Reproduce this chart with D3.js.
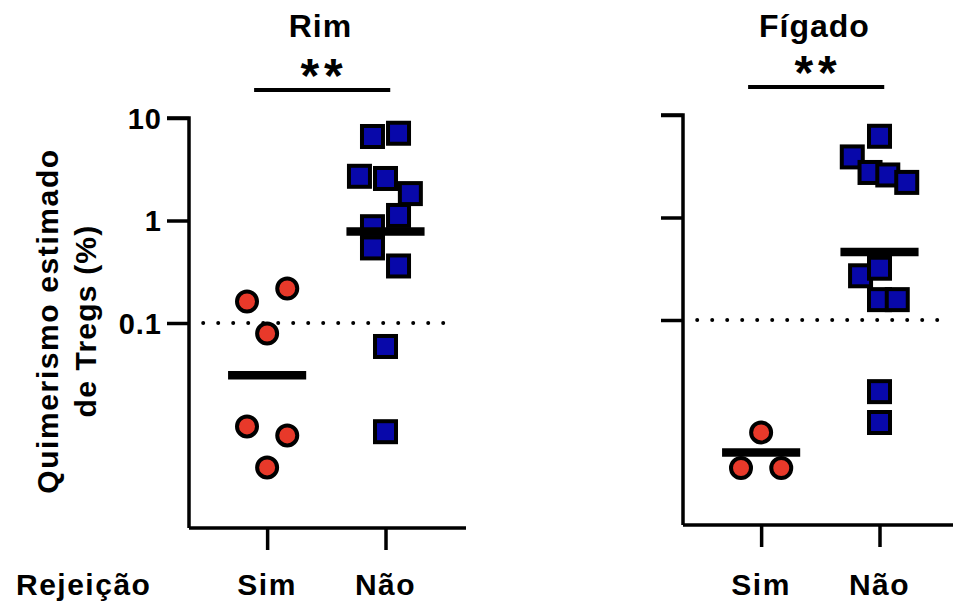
<!DOCTYPE html>
<html>
<head>
<meta charset="utf-8">
<script src="https://cdn.jsdelivr.net/npm/d3@7"></script>
<style>
  body { margin: 0; background: #fff; }
  text { font-family: "Liberation Sans", Arial, sans-serif; font-weight: bold; fill: #000; }
</style>
</head>
<body>
<div id="chart"></div>
<script>
// categorias e valores (%, escala log)
let groups = ["Sim", "Não"];
let tissues = ["Rim", "Fígado"];
let yTicks = [10, 1, 0.1];
let threshold = 0.1;

// Rim
let rimSim = [0.162, 0.217, 0.079, 0.0098, 0.0080, 0.0039];
let rimSimX = [0.83, 1.17, 1.0, 0.83, 1.17, 1.0];
let rimNao = [6.6, 7.1, 2.7, 2.57, 1.83, 1.12, 0.87, 0.54, 0.36, 0.059, 0.0087];
let rimNaoX = [1.89, 2.11, 1.78, 2.0, 2.21, 2.11, 1.89, 1.89, 2.11, 2.0, 2.0];
let rimMeans = [0.031, 0.78];

// Fígado
let figSim = [0.0080, 0.0036, 0.0036];
let figSimX = [1.0, 0.83, 1.17];
let figNao = [6.2, 3.9, 2.75, 2.6, 2.2, 0.27, 0.32, 0.158, 0.158, 0.020, 0.010];
let figNaoX = [2.0, 1.77, 1.92, 2.07, 2.23, 1.84, 2.0, 2.0, 2.15, 2.0, 2.0];
let figMeans = [0.0051, 0.46];

let signif = ["**", "**"];

let width = 953, height = 606;

let svg = d3.select("#chart")
.append("svg")
.attr("width", width)
.attr("height", height);

let panels = [
  {title: tissues[0], sim: rimSim, simX: rimSimX, nao: rimNao, naoX: rimNaoX, means: rimMeans, sig: signif[0],
   left: 189, top: 118, bottom: 528, labels: true},
  {title: tissues[1], sim: figSim, simX: figSimX, nao: figNao, naoX: figNaoX, means: figMeans, sig: signif[1],
   left: 683, top: 115, bottom: 525, labels: false}
];

let red = "#e8392a", blue = "#0808aa";

panels.forEach(function(p) {
  let x = d3.scaleLinear().domain([0.34, 2.68]).range([p.left, p.left + 277]);
  let y = d3.scaleLog().domain([0.001, 10]).range([p.bottom, p.top]);

  let g = svg.append("g");

  // eixo y
  let yAxis = d3.axisLeft(y).tickValues(yTicks).tickSize(22).tickFormat(p.labels ? d3.format("~g") : "");
  let ya = g.append("g").attr("transform", "translate(" + p.left + ",0)").call(yAxis);
  ya.select(".domain").attr("d", "M-22," + p.top + "H0V" + p.bottom);

  // eixo x
  let xAxis = d3.axisBottom(x).tickValues([1, 2]).tickSize(22).tickFormat("");
  let xa = g.append("g").attr("transform", "translate(0," + p.bottom + ")").call(xAxis);
  xa.select(".domain").attr("d", "M" + p.left + ",0H" + (p.left + 277));

  g.selectAll(".domain, .tick line")
  .attr("stroke", "#000")
  .attr("stroke-width", 3.5);
  ya.selectAll(".tick text")
  .attr("x", -27)
  .style("font-size", "29px")
  .style("letter-spacing", "1px")
  .style("font-family", "'Liberation Sans', Arial, sans-serif")
  .style("font-weight", "bold")
  .attr("dy", "0.36em");

  // rótulos das categorias
  g.selectAll(".cat")
  .data(groups)
  .enter().append("text")
  .attr("x", (d, i) => x(i + 1))
  .attr("y", 595)
  .attr("text-anchor", "middle")
  .style("font-size", "30px")
  .style("letter-spacing", "1.5px")
  .text(d => d);

  // linha pontilhada de limiar
  g.append("line")
  .attr("x1", x(0.46)).attr("x2", x(2.55))
  .attr("y1", y(threshold)).attr("y2", y(threshold))
  .attr("stroke", "#000")
  .attr("stroke-width", 4)
  .attr("stroke-linecap", "round")
  .attr("stroke-dasharray", "0,15");

  // pontos: Sim (círculos)
  g.selectAll(".sim")
  .data(p.sim)
  .enter().append("circle")
  .attr("cx", (d, i) => x(p.simX[i]))
  .attr("cy", d => y(d))
  .attr("r", 10)
  .attr("fill", red)
  .attr("stroke", "#000")
  .attr("stroke-width", 4);

  // pontos: Não (quadrados)
  g.selectAll(".nao")
  .data(p.nao)
  .enter().append("rect")
  .attr("x", (d, i) => x(p.naoX[i]) - 10.5)
  .attr("y", d => y(d) - 10.5)
  .attr("width", 21)
  .attr("height", 21)
  .attr("fill", blue)
  .attr("stroke", "#000")
  .attr("stroke-width", 4);

  // médias
  g.selectAll(".mean")
  .data(p.means)
  .enter().append("line")
  .attr("x1", (d, i) => x(i + 1 - 0.33))
  .attr("x2", (d, i) => x(i + 1 + 0.33))
  .attr("y1", d => y(d))
  .attr("y2", d => y(d))
  .attr("stroke", "#000")
  .attr("stroke-width", 8.5);

  // título, significância
  g.append("text")
  .attr("x", x(1.45))
  .attr("y", 37)
  .attr("text-anchor", "middle")
  .style("font-size", "32px")
  .style("letter-spacing", "1px")
  .text(p.title);

  g.append("line")
  .attr("x1", x(0.89)).attr("x2", x(2.04))
  .attr("y1", p.top - 28).attr("y2", p.top - 28)
  .attr("stroke", "#000")
  .attr("stroke-width", 4);

  g.append("text")
  .attr("x", x(1.46) + 2.5)
  .attr("y", p.top - 26)
  .attr("text-anchor", "middle")
  .style("font-size", "48px")
  .style("letter-spacing", "5px")
  .text(p.sig);
});

// título do eixo y
let yl = svg.append("g")
.attr("transform", "translate(0,321) rotate(-90)");
yl.append("text")
.attr("x", 0).attr("y", 58)
.attr("text-anchor", "middle")
.style("font-size", "30px")
.style("letter-spacing", "1.6px")
.text("Quimerismo estimado");
yl.append("text")
.attr("x", 0).attr("y", 96)
.attr("text-anchor", "middle")
.style("font-size", "30px")
.style("letter-spacing", "1.2px")
.text("de Tregs (%)");

svg.append("text")
.attr("x", 16)
.attr("y", 595)
.style("font-size", "30px")
.style("letter-spacing", "1.5px")
.text("Rejeição");
</script>
</body>
</html>
